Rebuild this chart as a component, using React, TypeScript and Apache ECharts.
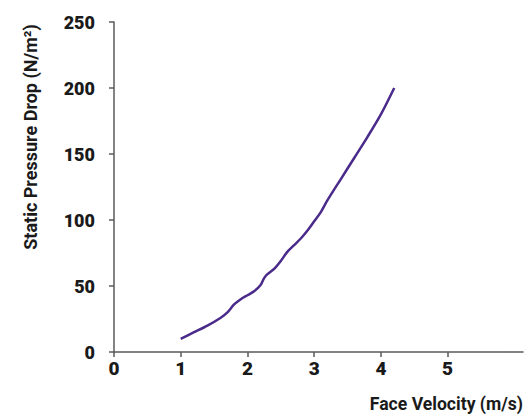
import React, { useEffect, useRef } from "react";
import * as echarts from "echarts";

const velocity = [1.0, 1.2, 1.4, 1.6, 1.7, 1.8, 1.9, 2.0, 2.1, 2.2, 2.25, 2.3, 2.4, 2.5, 2.6, 2.7, 2.8, 2.9, 3.0, 3.1, 3.2, 3.4, 3.6, 3.8, 4.0, 4.2];
const pressure = [10, 15, 20, 26, 30, 36, 40, 43, 46, 51, 56, 59, 63, 69, 76, 81, 86, 92, 99, 106, 115, 131, 147, 163, 180, 200];
const xTicks = [0, 1, 2, 3, 4, 5];
const yTitle = "Static Pressure Drop (N/m²)";
const xTitle = "Face Velocity (m/s)";

export default function App() {
  const ref = useRef<HTMLDivElement>(null);
  useEffect(() => {
    document.body.style.margin = "0";
    const chart = echarts.init(ref.current!, null, { renderer: "svg" });
    const font = "Roboto, 'DejaVu Sans', sans-serif";
    chart.setOption({
      animation: false,
      backgroundColor: "#ffffff",
      grid: { left: 114, right: 2, top: 22, bottom: 63, containLabel: false },
      xAxis: {
        type: "value",
        min: 0,
        max: 6.13,
        interval: 1,
        axisLine: { show: true, lineStyle: { color: "#5a5a5a", width: 1.5 } },
        axisTick: { show: true, length: 5, customValues: xTicks, lineStyle: { color: "#5a5a5a", width: 1.5 } },
        axisLabel: {
          customValues: xTicks,
          fontSize: 19,
          fontWeight: 900,
          color: "#1a1a1a",
          fontFamily: font,
          margin: 7,
        },
        splitLine: { show: false },
      },
      yAxis: {
        type: "value",
        min: 0,
        max: 250,
        interval: 50,
        axisLine: { show: true, lineStyle: { color: "#5a5a5a", width: 1.5 } },
        axisTick: { show: true, length: 5, lineStyle: { color: "#5a5a5a", width: 1.5 } },
        axisLabel: {
          fontSize: 18,
          fontWeight: 900,
          color: "#1a1a1a",
          fontFamily: font,
          margin: 19,
        },
        splitLine: { show: false },
      },
      series: [
        {
          type: "line",
          data: velocity.map((v, i) => [v, pressure[i]]),
          showSymbol: false,
          smooth: 0.3,
          lineStyle: { color: "#4a2a8a", width: 2.5 },
        },
      ],
      graphic: [
        {
          type: "text",
          x: 30,
          y: 137,
          rotation: Math.PI / 2,
          style: {
            text: yTitle,
            fontSize: 18,
            fontWeight: "bold",
            fontFamily: font,
            fill: "#1a1a1a",
            textAlign: "center",
            textVerticalAlign: "middle",
          },
        },
        {
          type: "text",
          x: 523,
          y: 404,
          style: {
            text: xTitle,
            fontSize: 17.6,
            fontWeight: "bold",
            fontFamily: font,
            fill: "#1a1a1a",
            textAlign: "right",
            textVerticalAlign: "middle",
          },
        },
      ],
    });
    return () => chart.dispose();
  }, []);
  return <div ref={ref} style={{ position: "absolute", left: 0, top: 0, width: 525, height: 415 }} />;
}
